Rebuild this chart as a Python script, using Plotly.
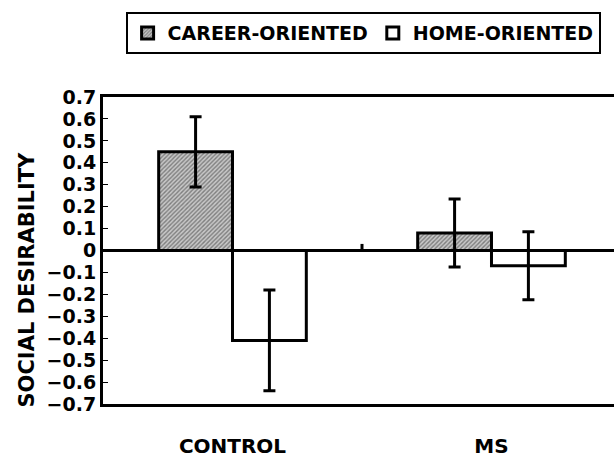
import plotly.graph_objects as go

groups = ["CONTROL", "MS"]
career = [0.45, 0.08]
career_err = [0.16, 0.155]
home = [-0.41, -0.07]
home_err = [0.23, 0.155]
y_ticks = [round(-0.7 + 0.1 * i, 1) for i in range(15)]
y_ticktext = ["0" if v == 0 else (f"\u2212{abs(v):.1f}" if v < 0 else f"{v:.1f}") for v in y_ticks]

FONT = "DejaVu Sans"

fig = go.Figure()
fig.add_trace(go.Bar(
    x=groups, y=career, name="CAREER-ORIENTED",
    error_y=dict(type="data", array=career_err, color="black", thickness=3, width=6),
    marker=dict(color="#bbbbbb", line=dict(color="black", width=3),
                pattern=dict(shape="/", size=3, solidity=0.45, fgcolor="#333", bgcolor="#c8c8c8")),
))
fig.add_trace(go.Bar(
    x=groups, y=home, name="HOME-ORIENTED",
    error_y=dict(type="data", array=home_err, color="black", thickness=3, width=6),
    marker=dict(color="white", line=dict(color="black", width=3)),
))

# small category divider tick on the zero line
fig.add_shape(type="line", xref="x", yref="y", x0=0.5, x1=0.5, y0=0, y1=0.03,
              line=dict(color="black", width=3))

fig.add_annotation(text="<b>SOCIAL DESIRABILITY</b>", textangle=-90, showarrow=False,
                   xref="paper", yref="paper", x=-0.149, y=0.405, xanchor="center", yanchor="middle",
                   font=dict(family=FONT, size=21, color="black"))

fig.update_layout(
    width=614, height=459,
    margin=dict(l=103, r=0, t=97, b=55, autoexpand=False),
    paper_bgcolor="white", plot_bgcolor="white",
    barmode="group", bargap=0.43, bargroupgap=0,
    font=dict(family=FONT, size=17, color="black"),
    showlegend=True,
    legend=dict(orientation="h", x=0.509, xanchor="center", y=1.208, yanchor="middle",
                bordercolor="black", borderwidth=2, bgcolor="white",
                font=dict(family=FONT, size=19, color="black", weight="bold"),
                itemwidth=30, tracegroupgap=0),
)
fig.update_xaxes(
    range=[-0.5, 1.473], showline=True, linecolor="black", linewidth=3, mirror=True,
    ticks="", tickfont=dict(family=FONT, size=20, weight="bold"), ticklabelstandoff=22,
    showgrid=False,
)
fig.update_yaxes(
    range=[-0.7, 0.7], tickvals=y_ticks, ticktext=y_ticktext,
    showline=True, linecolor="black", linewidth=3, mirror=False,
    ticks="inside", ticklen=5, tickwidth=1, tickcolor="black",
    tickfont=dict(family=FONT, size=19, weight="bold"),
    showgrid=False, zeroline=True, zerolinecolor="black", zerolinewidth=3,
)

fig.write_html("out.html", config={"displayModeBar": False},
               post_script="document.body.style.margin='0';")
